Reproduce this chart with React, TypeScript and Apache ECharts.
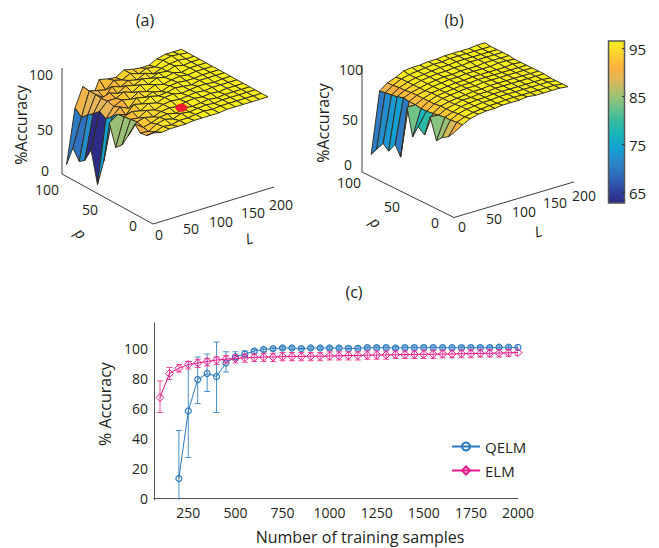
import React, { useEffect, useRef } from "react";
import * as echarts from "echarts";

const FONT = '"Open Sans", sans-serif';
const INK = "#231f20";

// ---------- panel (c) ----------
const elmX = [100,150,200,250,300,350,400,450,500,550,600,650,700,750,800,850,900,950,1000,1050,1100,1150,1200,1250,1300,1350,1400,1450,1500,1550,1600,1650,1700,1750,1800,1850,1900,1950,2000];
const elmY = [67,83,86.5,89,90,91,92,92.5,93,93.5,93.7,94,94,94.2,94.3,94.3,94.5,94.5,94.7,94.8,95,95,95.2,95.3,95.4,95.5,95.6,95.7,95.8,95.9,96,96,96.2,96.3,96.4,96.5,96.6,96.8,97];
const elmLow = [57,79,84,86,87,88,89,90,90,90.5,91,91,91,91.5,91.5,91.5,91.5,91.5,92,92,92,92,92.5,92.5,92.5,93,93,93,93,93,93.5,93.5,93.5,93.5,94,94,94,94.5,95];
const elmHigh = [78,87,89,91,92.5,93,94,95,95.5,96,96,96.5,96.5,97,97,97,97,97,97.5,97.5,97.5,97.5,98,98,98,98,98,98,98.5,98.5,98.5,98.5,98.5,99,99,99,99,99,99];
const qelmX = [200,250,300,350,400,450,500,550,600,650,700,750,800,850,900,950,1000,1050,1100,1150,1200,1250,1300,1350,1400,1450,1500,1550,1600,1650,1700,1750,1800,1850,1900,1950,2000];
const qelmY = [13,58,79,83,81,90,94,96,98,99,99.5,100,100,99.6,100,100,100,100,99.7,99.8,100.2,100.2,100.2,100,100.2,100.2,100.2,100.2,100.2,100.2,100.2,100.2,100.2,100.2,100.5,100.5,100.4];
const qelmLow = [-5,27,63,71,57,84,92,94,96.5,97.5,98.5,99,99,98.8,99,99,99,99,98.8,98.8,99.2,99.2,99.2,99,99.2,99.2,99.2,99.2,99.2,99.2,99.2,99.2,99.2,99.2,99.5,99.5,99.4];
const qelmHigh = [45,91,94,96,104,97.5,97.5,98,99,100,100.5,101,101,100.6,101,101,101,101,100.7,100.8,101.2,101.2,101.2,101,101.2,101.2,101.2,101.2,101.2,101.2,101.2,101.2,101.2,101.2,101.5,101.5,101.4];
const xTicks = [250,500,750,1000,1250,1500,1750,2000];
const yTicks = [0,20,40,60,80,100];

// ---------- panels (a), (b) ----------
const lGrid = [0,14,27,41,54,68,81,95,109,122,136,149,163,176,190];
const pGridA = [0,7,14,20,27,34,41,48,54,61,68,75,81,88,95];
const pGridB = [0,6,13,19,26,32,39,45,51,58,64,71,77,84,90];
const surfaceA = [
  [91,89,90,90,90,91,91,91,91,92,92,92,92,92,92],
  [85,86,89,88,90,90,91,92,91,92,92,92,92,92,92],
  [84,83,88,90,88,91,90,91,92,91,92,92,92,92,92],
  [90,84,86,89,90,88,91,90,91,92,91,92,92,92,92],
  [75,86,88,86,89,90,89,91,92,91,92,91,92,92,92],
  [62,85,84,89,87,90,91,90,91,92,91,92,92,92,92],
  [56,84,87,85,90,88,91,92,90,91,92,92,91,92,92],
  [77,83,80,88,86,91,89,90,92,91,90,92,92,92,92],
  [36,78,85,81,89,87,90,88,91,92,91,91,92,92,92],
  [9,72,82,86,84,89,87,91,89,91,92,91,92,92,92],
  [40,76,84,84,88,85,90,88,92,90,92,90,92,92,92],
  [26,70,83,86,83,88,86,90,88,91,90,93,91,92,92],
  [22,66,84,78,87,84,88,86,90,87,90,92,93,92,92],
  [32,60,84,82,80,87,85,89,86,89,88,92,94,93,92],
  [12,66,85,69,87,85,84,89,87,86,86,90,92,92,92],
];
const surfaceB = [
  [85,90,94,96,97,97,98,98,98,99,98,98,98,98,97],
  [78,90,93,95,96,97,97,98,98,98,98,98,98,98,97],
  [74,89,93,95,96,97,97,98,98,98,98,98,98,98,97],
  [68,89,92,95,96,97,97,98,98,98,98,98,98,98,97],
  [89,88,92,94,96,96,97,97,98,98,98,98,98,98,98],
  [68,87,92,94,95,96,97,97,98,98,98,98,98,98,98],
  [73,86,91,94,95,96,97,97,98,98,98,98,98,98,98],
  [60,86,91,94,95,96,97,97,98,98,98,98,98,98,98],
  [87,87,91,94,95,96,97,97,98,98,98,98,98,99,98],
  [34,87,91,93,95,96,97,97,98,98,98,98,99,99,98],
  [44,88,91,93,95,96,97,97,98,98,98,99,99,99,99],
  [34,86,90,93,95,96,97,97,98,98,99,99,99,99,99],
  [39,85,90,93,95,96,97,98,98,99,99,99,99,99,99],
  [30,84,89,93,95,96,97,98,98,99,99,99,99,99,99],
  [22,83,89,92,96,97,97,98,98,99,99,99,99,100,100],
];
// colour value of the first strip of cells (L = first step), front to back
const stripA = [92,92,91,91,85,85,85,75,74,63,62,72,69,70];
const stripB = [91,88,85,84,88,79,77,83,88,70,74,73,72,70];
const zTicks3d = [0,50,100];
const pTicks3d = [0,50,100];
const lTicks3d = [0,50,100,150,200];
const bestPoint = [77,20,92];
const colorbarTicks = [65,75,85,95];

const parula: [number, string][] = [
  [62.8,"#2c2a84"],[65,"#2e3f9c"],[68,"#3166b8"],[71,"#2d84c8"],[74,"#12a0d2"],[77,"#17b5bd"],
  [80,"#35bb9c"],[83,"#72c388"],[86,"#b0bf6c"],[89,"#e6b656"],[91,"#fbb03f"],[93,"#fdc734"],[95,"#fadf28"],[96.6,"#f5ee1b"],
];
const hex = (c: string) => [1,3,5].map((k) => parseInt(c.slice(k,k+2),16));
function colorOf(v: number) {
  if (v <= parula[0][0]) return parula[0][1];
  for (let k = 1; k < parula.length; k++) {
    if (v <= parula[k][0]) {
      const [a, ca] = parula[k-1]; const [b, cb] = parula[k];
      const t = (v-a)/(b-a); const A = hex(ca), B = hex(cb);
      return `rgb(${A.map((x,n)=>Math.round(x+(B[n]-x)*t)).join(",")})`;
    }
  }
  return parula[parula.length-1][1];
}

type Panel = { o:number[]; ex:number[]; ey:number[]; pGrid:number[]; z:number[][]; strip:number[]; shift:number };
const project = (P: Panel, L:number, p:number, z:number) => [
  P.o[0]+P.ex[0]*L+P.ey[0]*p,
  P.o[1]+P.ex[1]*L+P.ey[1]*p-z,
];
const panelA: Panel = { o:[153,224], ex:[0.605,-0.185], ey:[-0.91,-0.5], pGrid:pGridA, z:surfaceA, strip:stripA, shift:5 };
const panelB: Panel = { o:[454,217.5], ex:[0.6,-0.178], ey:[-0.92,-0.455], pGrid:pGridB, z:surfaceB, strip:stripB, shift:1 };

function surfaceSeries(P: Panel) {
  const cells: number[][] = [];
  for (let i = lGrid.length-2; i >= 0; i--) for (let j = P.pGrid.length-2; j >= 0; j--) cells.push([i,j]);
  return {
    type:"custom", coordinateSystem:"none", silent:true, data:cells, z:3,
    renderItem:(_:any, api:any) => {
      const i = api.value(0), j = api.value(1);
      const corners = [[i,j],[i+1,j],[i+1,j+1],[i,j+1]];
      const pts = corners.map(([a,b]) => project(P,lGrid[a],P.pGrid[b],P.z[b][a]));
      const top = Math.max(...corners.map(([a,b]) => P.z[b][a]));
      const v = i===0 ? P.strip[j] : top+P.shift;
      return { type:"polygon", shape:{points:pts}, style:{fill:colorOf(v),stroke:"#2f2b1e",lineWidth:0.95} };
    },
  };
}

function errorSeries(xs:number[], low:number[], high:number[], color:string, z:number) {
  return {
    type:"custom", xAxisIndex:0, yAxisIndex:0, silent:true, clip:true, z,
    data:xs.map((x,k)=>[x,low[k],high[k]]),
    renderItem:(_:any, api:any) => {
      const a = api.coord([api.value(0),api.value(1)]);
      const b = api.coord([api.value(0),api.value(2)]);
      const s = {stroke:color,lineWidth:1};
      const seg = (x1:number,y1:number,x2:number,y2:number) => ({type:"line",shape:{x1,y1,x2,y2},style:s});
      return { type:"group", children:[
        seg(a[0],a[1],b[0],b[1]), seg(a[0]-3,a[1],a[0]+3,a[1]), seg(b[0]-3,b[1],b[0]+3,b[1]),
      ]};
    },
  };
}

const txt = (text:string,x:number,y:number,size=15,extra:any={}) => ({
  type:"text", x, y, silent:true, z:5, rotation:extra.rotation||0,
  style:{text,fill:INK,fontFamily:FONT,fontSize:size,fontStyle:extra.fontStyle||"normal",textAlign:extra.align||"center",textVerticalAlign:"middle"},
});
const seg = (a:number[],b:number[],color="#3c3c3c",w=1) => ({
  type:"line", silent:true, z:1, shape:{x1:a[0],y1:a[1],x2:b[0],y2:b[1]}, style:{stroke:color,lineWidth:w},
});

function panelGraphics(P:Panel, zTop:number[], zPos:number[][], pPos:number[][], lPos:number[][], accPos:number[], pName:number[], lName:number[], title:number[], label:string) {
  const base = project(P,0,0,0), pEnd = project(P,0,100,0), lEnd = project(P,200,0,0);
  return [
    seg(pEnd,zTop,"#6d6d6d",1.3), seg(pEnd,base), seg(base,lEnd),
    ...zTicks3d.map((t,k)=>txt(String(t),zPos[k][0],zPos[k][1],14)),
    ...pTicks3d.map((t,k)=>txt(String(t),pPos[k][0],pPos[k][1],14)),
    ...lTicks3d.map((t,k)=>txt(String(t),lPos[k][0],lPos[k][1],14)),
    txt("%Accuracy",accPos[0],accPos[1],16,{rotation:Math.PI/2}),
    txt("p",pName[0],pName[1],15,{rotation:-0.8,fontStyle:"italic"}),
    txt("L",lName[0],lName[1],15,{rotation:0.25,fontStyle:"italic"}),
    txt(label,title[0],title[1],16),
  ];
}

export default function App() {
  const ref = useRef<HTMLDivElement>(null);
  useEffect(() => {
    document.body.style.margin = "0";
    const chart = echarts.init(ref.current!, undefined, { renderer:"svg" });
    const barTop = 41, barBottom = 203, vTop = 96.6, vBottom = 62.8;
    const barY = (v:number) => barTop+(vTop-v)/(vTop-vBottom)*(barBottom-barTop);
    const dotC = project(panelA,bestPoint[0],bestPoint[1],bestPoint[2]);
    chart.setOption({
      animation:false,
      backgroundColor:"#fff",
      textStyle:{fontFamily:FONT},
      grid:{left:154,right:141,top:323,bottom:48,containLabel:false},
      xAxis:{
        type:"value",min:68,max:2000,
        axisLine:{lineStyle:{color:"#555",width:1}},axisTick:{show:false},splitLine:{show:false},
        axisLabel:{customValues:xTicks,formatter:(v:number)=>String(v),color:INK,fontFamily:FONT,fontSize:14,margin:5,hideOverlap:false},
      },
      yAxis:{
        type:"value",min:-1.33,max:116.67,
        axisLine:{show:true,lineStyle:{color:"#555",width:1}},axisTick:{show:false},splitLine:{show:false},
        axisLabel:{customValues:yTicks,color:INK,fontFamily:FONT,fontSize:14,margin:6},
      },
      legend:{
        data:["QELM","ELM"],orient:"vertical",left:451,top:439,padding:0,itemWidth:28,itemHeight:10,itemGap:9,
        textStyle:{fontFamily:FONT,fontSize:15,color:INK},
      },
      series:[
        surfaceSeries(panelA),
        {
          type:"custom",coordinateSystem:"none",silent:true,z:4,data:[bestPoint],
          renderItem:()=>({type:"ellipse",shape:{cx:dotC[0],cy:dotC[1],rx:6,ry:4},style:{fill:"#ed1c2e"}}),
        },
        surfaceSeries(panelB),
        errorSeries(qelmX,qelmLow,qelmHigh,"#4a90cc",2),
        {
          name:"QELM",type:"line",data:qelmX.map((x,k)=>[x,qelmY[k]]),z:3,showAllSymbol:true,
          symbol:"circle",symbolSize:6,lineStyle:{color:"#2b78bd",width:1},
          itemStyle:{color:"rgba(255,255,255,0)",borderColor:"#2b78bd",borderWidth:1.2},
        },
        errorSeries(elmX,elmLow,elmHigh,"#ee4f9f",4),
        {
          name:"ELM",type:"line",data:elmX.map((x,k)=>[x,elmY[k]]),z:5,showAllSymbol:true,
          symbol:"diamond",symbolSize:8,lineStyle:{color:"#e8198b",width:1},
          itemStyle:{color:"rgba(255,255,255,0)",borderColor:"#e8198b",borderWidth:1},
        },
      ],
      graphic:[
        ...panelGraphics(panelA,[62,68],[[45,170],[45,129],[41,74]],[[133,225],[90,209],[47,189]],
          [[159,234],[191,228],[221,221],[253,212],[281,204]],[21,125],[81,233],[249,238],[145,20],"(a)"),
        ...panelGraphics(panelB,[362,65],[[348,164],[350,119],[351,69]],[[435,222],[392,206],[349,182]],
          [[462,226],[494,218],[524,211],[555,202],[584,195]],[323,123],[376,222],[538,231],[454,20],"(b)"),
        txt("(c)",354,292,16),
        txt("Number of training samples",360,537,16),
        txt("% Accuracy",105,404,16,{rotation:Math.PI/2}),
        {
          type:"rect",silent:true,z:2,shape:{x:608.5,y:barTop,width:16,height:barBottom-barTop},
          style:{
            fill:new echarts.graphic.LinearGradient(0,0,0,1,parula.slice().reverse().map(([v,color])=>({offset:(vTop-v)/(vTop-vBottom),color}))),
            stroke:"#55565a",lineWidth:1.5,
          },
        },
        ...colorbarTicks.flatMap((t)=>[
          {type:"line",silent:true,z:3,shape:{x1:622,y1:barY(t),x2:624.5,y2:barY(t)},style:{stroke:"#333",lineWidth:1}},
          txt(String(t),629,barY(t)+0.5,15,{align:"left"}),
        ]),
      ],
    });
    return () => chart.dispose();
  }, []);
  return <div ref={ref} style={{position:"absolute",left:0,top:0,width:659,height:548}} />;
}
